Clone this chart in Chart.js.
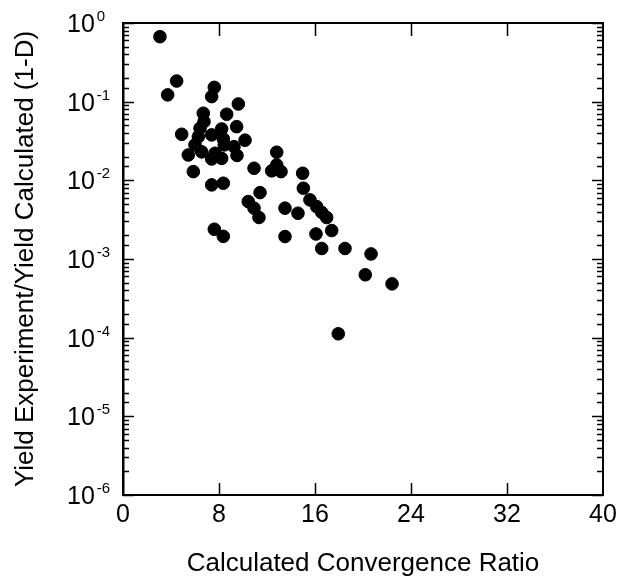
<!DOCTYPE html>
<html>
<head>
<meta charset="utf-8">
<script src="https://cdn.jsdelivr.net/npm/chart.js@4/dist/chart.umd.min.js"></script>
<style>
  html, body { margin: 0; padding: 0; background: #fff; }
  #wrap { width: 622px; height: 580px; }
</style>
</head>
<body>
<div id="wrap"><canvas id="yieldChart" width="622" height="580"></canvas></div>
<script>
// calculated convergence ratio
const convergenceRatio = [
  3.08, 4.47, 3.72, 7.61, 7.39, 9.61, 6.69, 8.64, 6.75, 9.47,
  6.42, 8.22, 4.89, 7.39, 6.28, 8.36, 10.17, 6.0, 9.25, 8.44,
  6.56, 5.44, 7.67, 9.5, 7.39, 8.22, 12.81, 10.92, 12.81, 12.39,
  13.17, 14.97, 5.86, 7.39, 8.36, 11.42, 15.03, 10.44, 10.92, 11.33,
  13.5, 14.58, 15.58, 16.14, 16.56, 16.97, 7.61, 8.36, 13.5, 16.08,
  17.39, 16.56, 18.5, 20.67, 20.19, 22.42, 17.94
];

// yield experiment / yield calculated (1-D)
const yieldRatio = [
  0.67, 0.183, 0.122, 0.152, 0.116, 0.0935, 0.0713, 0.0692, 0.0557, 0.0481,
  0.0459, 0.045, 0.0385, 0.0378, 0.0359, 0.0336, 0.0324, 0.0282, 0.0268, 0.0282,
  0.023, 0.021, 0.0221, 0.0207, 0.0187, 0.019, 0.0228, 0.01426, 0.0157, 0.0132,
  0.0129, 0.0123, 0.0129, 0.00875, 0.00919, 0.00698, 0.00794, 0.00537, 0.00443, 0.00337,
  0.00443, 0.00382, 0.00564, 0.00463, 0.00391, 0.00337, 0.00239, 0.00194, 0.00193, 0.00208,
  0.0023, 0.00136, 0.00136, 0.00116, 0.00063, 0.000483, 0.000112
];

const xTicks = [0, 8, 16, 24, 32, 40];
const yExponents = [0, -1, -2, -3, -4, -5, -6];

const FONT = "'Liberation Sans', Arial, Helvetica, sans-serif";

const points = convergenceRatio.map((x, i) => ({ x: x, y: yieldRatio[i] }));

// inward tick marks on all four sides + superscript y labels
const frameTicks = {
  id: "frameTicks",
  afterDraw(chart) {
    const ctx = chart.ctx;
    const area = chart.chartArea;
    const xs = chart.scales.x;
    const ys = chart.scales.y;

    ctx.save();
    ctx.strokeStyle = "#000";
    ctx.lineWidth = 2;

    // top and right frame
    ctx.beginPath();
    ctx.moveTo(area.left, area.top);
    ctx.lineTo(area.right, area.top);
    ctx.lineTo(area.right, area.bottom);
    ctx.stroke();

    ctx.lineWidth = 1.5;
    // x ticks, bottom and top
    xTicks.slice(1, -1).forEach(v => {
      const px = Math.round(xs.getPixelForValue(v)) + 0.5;
      ctx.beginPath();
      ctx.moveTo(px, area.bottom);
      ctx.lineTo(px, area.bottom - 12);
      ctx.moveTo(px, area.top);
      ctx.lineTo(px, area.top + 13);
      ctx.stroke();
    });

    // y ticks, left and right
    ys.ticks.forEach(t => {
      const v = t.value;
      const lg = Math.log10(v);
      const major = Math.abs(lg - Math.round(lg)) < 1e-6;
      const len = major ? 11 : 6;
      const py = Math.round(ys.getPixelForValue(v)) + 0.5;
      if (py < area.top - 1 || py > area.bottom + 1) return;
      ctx.beginPath();
      ctx.moveTo(area.left, py);
      ctx.lineTo(area.left + len, py);
      ctx.moveTo(area.right, py);
      ctx.lineTo(area.right - len, py);
      ctx.stroke();
    });

    // y labels: 10 with superscript exponent, left aligned
    ctx.fillStyle = "#000";
    ctx.textBaseline = "alphabetic";
    ctx.textAlign = "left";
    yExponents.forEach(e => {
      const py = ys.getPixelForValue(Math.pow(10, e));
      ctx.font = "25px " + FONT;
      const bw = ctx.measureText("10").width;
      ctx.fillText("10", 67, py + 9);
      ctx.font = "15px " + FONT;
      ctx.fillText(String(e), 67 + bw + 2, py - 2);
    });
    ctx.restore();
  }
};

new Chart(document.getElementById("yieldChart"), {
  type: "scatter",
  data: {
    datasets: [{
      data: points,
      backgroundColor: "#000",
      borderColor: "#000",
      pointRadius: 6.3,
      pointHoverRadius: 6.3
    }]
  },
  options: {
    responsive: false,
    animation: false,
    layout: { padding: { top: 23, right: 19, left: 0, bottom: 0 } },
    plugins: {
      legend: { display: false },
      tooltip: { enabled: false }
    },
    scales: {
      x: {
        type: "linear",
        min: 0,
        max: 40,
        afterBuildTicks: s => { s.ticks = xTicks.map(v => ({ value: v })); },
        afterFit: s => { s.height = 85; },
        grid: { display: false, drawTicks: false },
        border: { display: true, color: "#000", width: 2 },
        ticks: {
          color: "#000",
          padding: 5,
          font: { family: FONT, size: 25 }
        },
        title: {
          display: true,
          text: "Calculated Convergence Ratio",
          color: "#000",
          font: { family: FONT, size: 26 },
          padding: { top: 0, bottom: 1 }
        }
      },
      y: {
        type: "logarithmic",
        min: 1e-6,
        max: 1,
        afterFit: s => { s.width = 123; },
        grid: { display: false, drawTicks: false },
        border: { display: true, color: "#000", width: 2.5 },
        ticks: {
          autoSkip: false,
          callback: () => ""
        },
        title: {
          display: true,
          text: "Yield Experiment/Yield Calculated (1-D)",
          color: "#000",
          font: { family: FONT, size: 26 },
          padding: { top: 10, bottom: 0 }
        }
      }
    }
  },
  plugins: [frameTicks]
});
</script>
</body>
</html>
